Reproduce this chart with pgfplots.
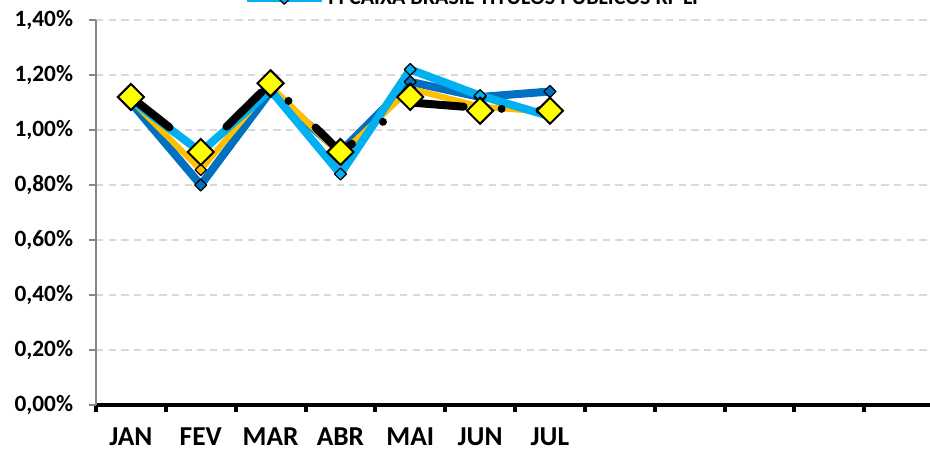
\documentclass[border=0pt]{standalone}
\usepackage{fontspec}
\setmainfont{Carlito}
\usepackage{pgfplots}
\pgfplotsset{compat=1.18}
\definecolor{dblue}{HTML}{0070C0}
\definecolor{lblue}{HTML}{00B0F0}
\definecolor{gold}{HTML}{FFC000}
\definecolor{yell}{HTML}{FFFF00}
\definecolor{gridgray}{HTML}{D9D9D9}
\definecolor{axgray}{HTML}{868686}

\begin{document}
\begin{tikzpicture}
\useasboundingbox (0,0) rectangle (697.5pt,337.5pt);
\begin{axis}[
  at={(72pt,33.75pt)}, anchor=south west,
  scale only axis, width=628.5pt, height=288.75pt,
  xmin=0.5, xmax=12.5, ymin=0, ymax=1.4,
  axis x line*=bottom, axis y line*=left,
  x axis line style={black, line width=3pt, -},
  y axis line style={axgray, line width=1.1pt, -},
  tick align=outside, major tick length=5.5pt,
  xtick={0.5,1.5,2.5,3.5,4.5,5.5,6.5,7.5,8.5,9.5,10.5,11.5,12.5},
  x tick label as interval,
  xticklabels={JAN,FEV,MAR,ABR,MAI,JUN,JUL,,,,,},
  xtick style={black, line width=3pt},
  ytick={0,0.2,0.4,0.6,0.8,1.0,1.2,1.4},
  ytick style={axgray, line width=1.1pt},
  ymajorgrids,
  major grid style={gridgray, line width=1.1pt, dash pattern=on 5.5pt off 4pt},
  /pgf/number format/assume math mode=true,
  yticklabel={\pgfmathprintnumber{\tick}\%},
  yticklabel style={font=\bfseries\fontsize{17.5}{20}\selectfont, inner sep=0pt, xshift=-11.5pt,
    /pgf/number format/.cd, fixed, fixed zerofill, precision=2, use comma},
  xticklabel style={font=\bfseries\fontsize{20.5}{24}\selectfont, anchor=base, inner sep=0pt, yshift=-24.5pt},
  legend style={draw=none, fill=none, at={(0.175,1)}, anchor=south west, yshift=8pt,
    inner sep=0pt, font=\bfseries\fontsize{16.5}{18}\selectfont,
    /tikz/every even column/.append style={column sep=2pt}},
  legend image code/.code={\draw[mark repeat=2,mark phase=2,#1] plot coordinates {(0pt,0pt) (28pt,0pt) (56pt,0pt)};},
]
% dark blue series
\addplot[dblue, line width=6pt, line join=round, mark=square*, mark size=3.2pt,
  mark options={rotate=45, fill=dblue, draw=black, line width=0.9pt}, forget plot]
  coordinates {(1,1.10) (2,0.80) (3,1.14) (4,0.92) (5,1.175) (6,1.12) (7,1.14)};
% orange series
\addplot[gold, line width=4.5pt, line join=round, mark=square*, mark size=3pt,
  mark options={rotate=45, fill=gold, draw=black, line width=0.9pt}, forget plot]
  coordinates {(1,1.11) (2,0.855) (3,1.16) (4,0.91) (5,1.15) (6,1.085) (7,1.065)};
% light blue series
\addplot[lblue, line width=6pt, line join=round, mark=square*, mark size=3.2pt,
  mark options={rotate=45, fill=lblue, draw=black, line width=0.9pt}]
  coordinates {(1,1.11) (2,0.92) (3,1.145) (4,0.84) (5,1.22) (6,1.125) (7,1.05)};
\addlegendentry{FI CAIXA BRASIL TITULOS PUBLICOS RF LP}
% black dash-dot series
\addplot[black, line width=6pt, line cap=round, line join=round,
  dash pattern=on 36.75pt off 28.5pt on 0.01pt off 28.5pt, forget plot]
  coordinates {(1,1.12) (2,0.92) (3,1.17) (4,0.92) (5,1.10) (6,1.08) (7,1.07)};
% yellow markers
\addplot[only marks, mark=square*, mark size=6.9pt,
  mark options={rotate=45, fill=yell, draw=black, line width=1.5pt}, forget plot]
  coordinates {(1,1.12) (2,0.92) (3,1.17) (4,0.92) (5,1.12) (6,1.07) (7,1.07)};
\end{axis}
\end{tikzpicture}
\end{document}
